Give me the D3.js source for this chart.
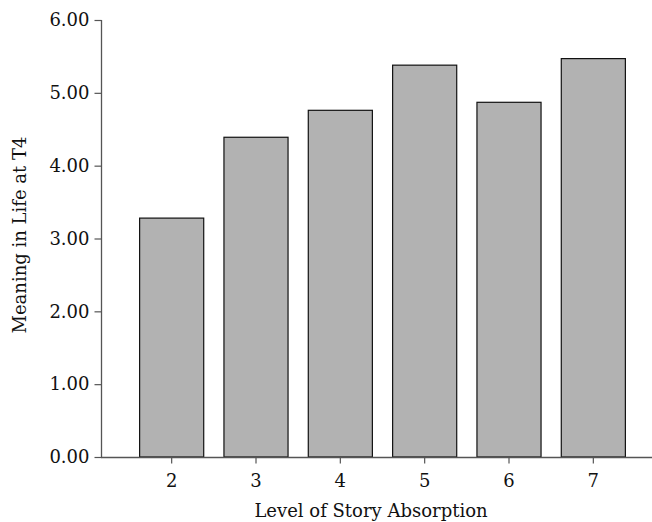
<!DOCTYPE html>
<html>
<head>
<meta charset="utf-8">
<script src="https://cdn.jsdelivr.net/npm/d3@7"></script>
<style>
body { margin: 0; background: #fff; }
svg { display: block; }
text { font-family: "DejaVu Serif", serif; fill: #111; }
</style>
</head>
<body>
<svg id="chart" width="652" height="522"></svg>
<script>
const categories = ["2", "3", "4", "5", "6", "7"];
const values = [3.28, 4.39, 4.76, 5.38, 4.87, 5.47];
const yTicks = [0, 1, 2, 3, 4, 5, 6];
const xTitle = "Level of Story Absorption";
const yTitle = "Meaning in Life at T4";

const svg = d3.select("#chart");
const y = d3.scaleLinear().domain([0, 6]).range([457, 20]);
const x = d3.scaleBand().domain(categories).range([129.5, 635.5]).paddingInner(0.24).paddingOuter(0.12);
const axisColor = "#555";
const fs = 18;

// bars
svg.append("g").selectAll("rect").data(values).join("rect")
  .attr("x", (d, i) => x(categories[i]))
  .attr("y", d => y(d))
  .attr("width", x.bandwidth())
  .attr("height", d => y(0) - y(d))
  .attr("fill", "#b2b2b2")
  .attr("stroke", "#111")
  .attr("stroke-width", 1.2);

// y axis
const yAxis = svg.append("g").attr("transform", "translate(101.5,0)")
  .call(d3.axisLeft(y).tickValues(yTicks).tickFormat(d3.format(".2f")).tickSize(7).tickPadding(5));
yAxis.select(".domain").attr("stroke", axisColor).attr("stroke-width", 1.3).attr("d", "M0,20V457");
yAxis.selectAll(".tick line").attr("stroke", axisColor).attr("stroke-width", 1.2);
yAxis.selectAll(".tick text").attr("font-size", fs).attr("font-family", "DejaVu Serif").attr("fill", "#111");

// x axis
const xAxis = svg.append("g").attr("transform", "translate(0,457.5)")
  .call(d3.axisBottom(x).tickSize(6).tickPadding(11));
xAxis.select(".domain").attr("stroke", axisColor).attr("stroke-width", 1.3).attr("d", "M101,0H652");
xAxis.selectAll(".tick line").attr("stroke", axisColor).attr("stroke-width", 1.2);
xAxis.selectAll(".tick text").attr("font-size", fs).attr("font-family", "DejaVu Serif").attr("fill", "#111");

// titles
svg.append("text").attr("x", 371).attr("y", 517).attr("text-anchor", "middle")
  .attr("font-size", fs).text(xTitle);
svg.append("text").attr("transform", "translate(26,235) rotate(-90)").attr("text-anchor", "middle")
  .attr("font-size", fs).text(yTitle);
</script>
</body>
</html>
